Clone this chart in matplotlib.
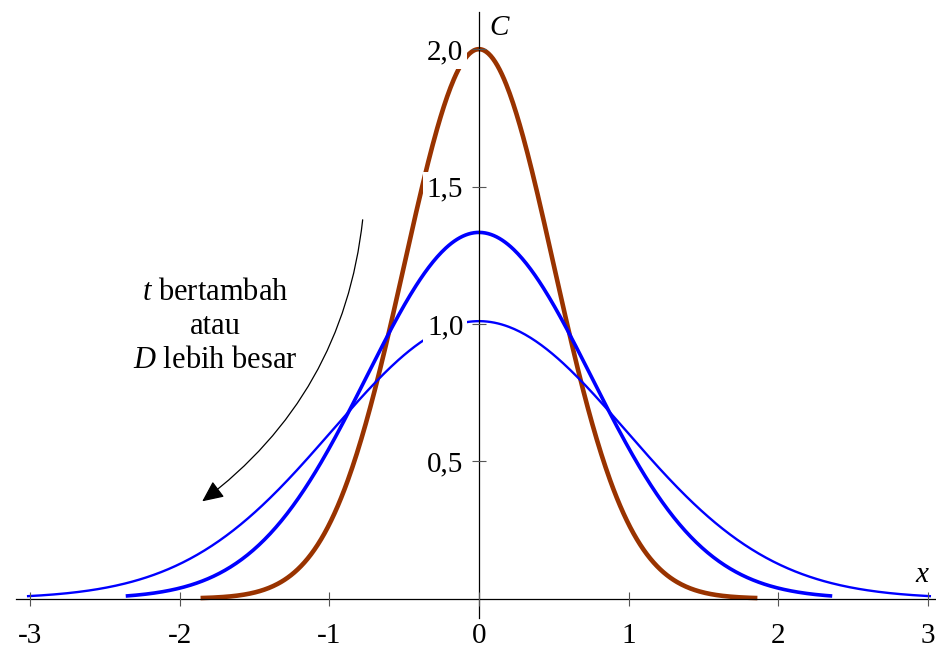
import numpy as np
import matplotlib.pyplot as plt
from matplotlib.patches import FancyArrowPatch

plt.rcParams['font.family'] = ['Liberation Serif', 'DejaVu Serif']
plt.rcParams['mathtext.fontset'] = 'custom'
plt.rcParams['mathtext.it'] = 'Liberation Serif:italic'
plt.rcParams['mathtext.rm'] = 'Liberation Serif'

# concentration profiles C(x): peak height, spread and half-range of each curve
peaks = [2.0, 1.333, 1.01]
spreads = [0.5, 0.75, 0.98]
half_ranges = [1.86, 2.36, 3.02]
colors = ['#993300', '#0000ff', '#0000ff']
widths = [3.3, 2.6, 1.7]

xticks = [-3, -2, -1, 0, 1, 2, 3]
xtick_labels = ['-3', '-2', '-1', '0', '1', '2', '3']
yticks = [0.5, 1.0, 1.5, 2.0]
ytick_labels = ['0,5', '1,0', '1,5', '2,0']

fig = plt.figure(figsize=(9.37, 6.53), dpi=100)
ax = fig.add_axes([0, 0, 1, 1])

for p, s, h, c, w in zip(peaks, spreads, half_ranges, colors, widths):
    x = np.linspace(-h, h, 500)
    ax.plot(x, p * np.exp(-x**2 / (2 * s**2)), color=c, lw=w,
            solid_capstyle='butt', zorder=2)

ax.set_xlim(-3.2, 3.06)
ax.set_ylim(-0.198, 2.179)

# axes crossing at the origin
for side in ['top', 'right']:
    ax.spines[side].set_visible(False)
ax.spines['left'].set_position(('data', 0))
ax.spines['bottom'].set_position(('data', 0))
ax.spines['left'].set_bounds(-0.07, 2.135)
ax.spines['bottom'].set_bounds(-3.09, 3.06)
for side in ['left', 'bottom']:
    ax.spines[side].set_linewidth(0.9)
ax.set_axisbelow(False)

ax.set_xticks(xticks, labels=xtick_labels)
ax.set_yticks(yticks, labels=ytick_labels)
ax.tick_params(direction='inout', length=10.5, width=0.8, color='#555555',
               labelsize=21)
ax.tick_params(axis='x', pad=12)
ax.tick_params(axis='y', pad=6)
for lbl in ax.get_yticklabels():
    lbl.set_bbox(dict(facecolor='white', edgecolor='none', pad=3))

ax.text(0.14, 2.077, '$C$', fontsize=21, ha='center', va='center')
ax.text(2.966, 0.086, '$x$', fontsize=21, ha='center', va='center')

ax.text(-1.764, 0.99, '$t$ bertambah\natau\n$D$ lebih besar', fontsize=22,
        ha='center', va='center', multialignment='center', linespacing=1.22)

arrow = FancyArrowPatch((-0.775, 1.389), (-1.864, 0.348),
                        connectionstyle='arc3,rad=-0.22',
                        arrowstyle='-|>,head_length=0.65,head_width=0.3',
                        mutation_scale=20, lw=0.9, color='black')
ax.add_patch(arrow)

fig.savefig('out.png', dpi=100)
